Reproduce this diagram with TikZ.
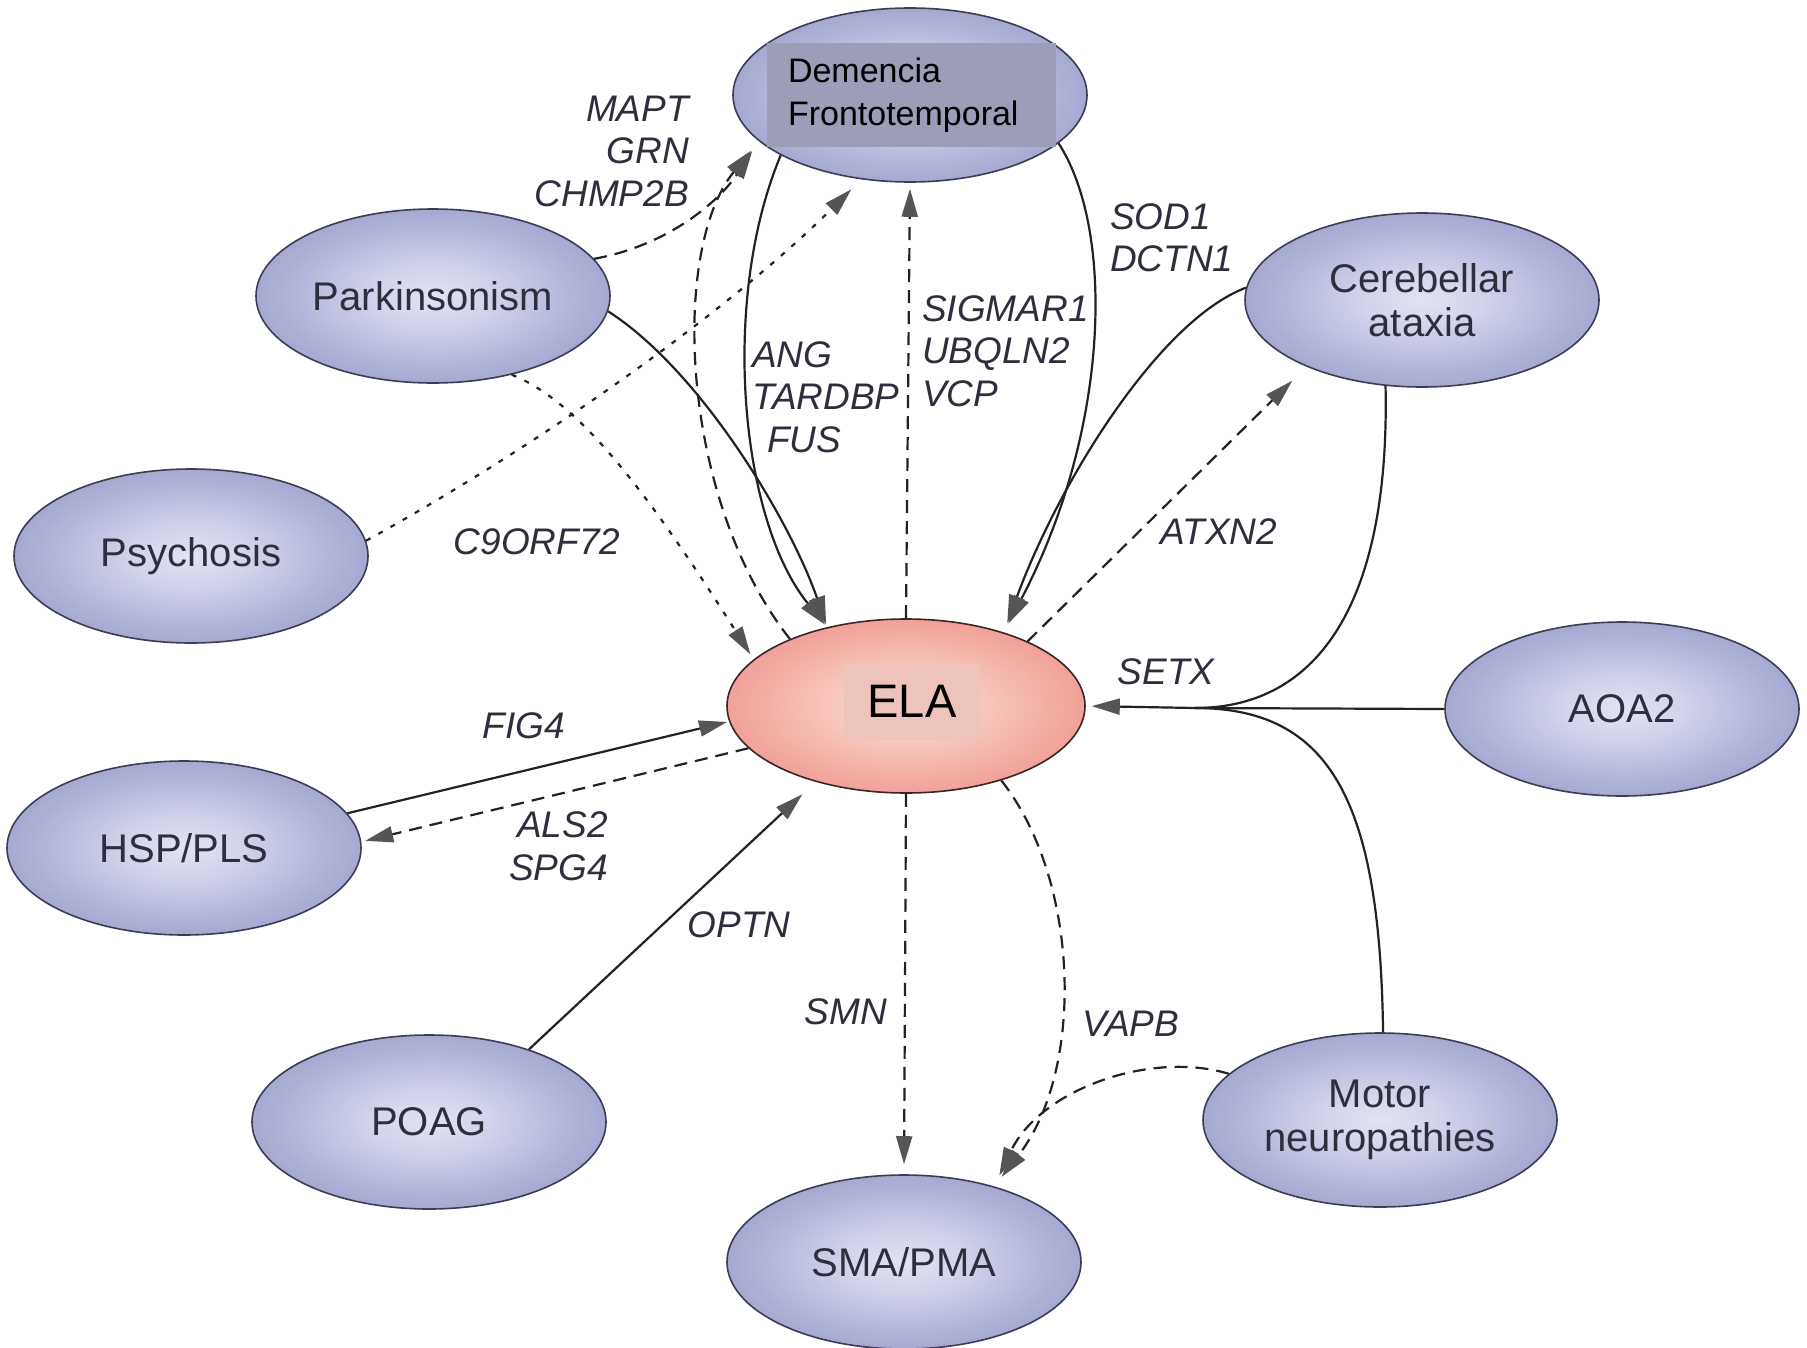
\documentclass[tikz,border=0pt]{standalone}
\usepackage{fontspec}
\setmainfont{Liberation Sans}
\usetikzlibrary{arrows.meta,shapes.geometric}
\definecolor{ellc0}{HTML}{E2E3F3}
\definecolor{ellc1}{HTML}{D2D4EB}
\definecolor{ellc2}{HTML}{9DA0CC}
\definecolor{ellc3}{HTML}{6D71A8}
\definecolor{ellborder}{HTML}{3C3C58}
\definecolor{elac0}{HTML}{FCE0D8}
\definecolor{elac1}{HTML}{F8CCC3}
\definecolor{elac2}{HTML}{F09A90}
\definecolor{elac3}{HTML}{DE6F65}
\definecolor{elaborder}{HTML}{3A2626}
\definecolor{demrect}{HTML}{9B9EB6}
\definecolor{elarect}{HTML}{EEC3BB}
\definecolor{arrowgray}{HTML}{555555}
\definecolor{linecol}{HTML}{222222}
\definecolor{labelcol}{HTML}{2E2E3C}
\pgfdeclareradialshading{blueball}{\pgfpoint{0bp}{0bp}}{color(0bp)=(ellc0); color(8bp)=(ellc1); color(28bp)=(ellc2); color(50bp)=(ellc3)}
\pgfdeclareradialshading{pinkball}{\pgfpoint{0bp}{0bp}}{color(0bp)=(elac0); color(8bp)=(elac1); color(28bp)=(elac2); color(50bp)=(elac3)}
\tikzset{
  dis/.style={ellipse, draw=ellborder, line width=1.6pt, shading=blueball,
    minimum width=354pt, minimum height=174pt, inner sep=0pt, text=labelcol,
    font=\fontsize{40}{44}\selectfont, align=center},
  elanode/.style={dis, draw=elaborder, shading=pinkball, minimum width=358pt},
  gene/.style={font=\fontsize{37}{42.5}\selectfont\itshape, text=labelcol, inner sep=0pt},
  conn/.style={line width=2.2pt, draw=linecol},
  dashln/.style={conn, dash pattern=on 13pt off 8pt},
  dotln/.style={conn, dash pattern=on 5pt off 9pt},
  arrowend/.style={-{Triangle[length=28pt,width=16pt,color=arrowgray,fill=arrowgray]}},
}
\begin{document}
\begin{tikzpicture}[x=1pt,y=-1pt]
\fill[white] (0,0) rectangle (1807,1347);
\useasboundingbox (0,0) rectangle (1807,1347);

% nodes
\node[dis] (dem) at (910,95) {};
\node[rectangle, fill=demrect, minimum width=289pt, minimum height=104pt,
      text width=247pt, align=left, inner xsep=21pt, inner ysep=0pt,
      font=\fontsize{34}{43}\selectfont, text=black] (demtxt) at (911.5,95) {Demencia\\Frontotemporal};
\node[dis] (park) at (433,296) {Parkinsonism};
\node[dis] (psy) at (191,556) {Psychosis};
\node[dis] (cer) at (1422,300) {Cerebellar\\ataxia};
\node[elanode] (ela) at (906,706) {};
\node[rectangle, fill=elarect, minimum width=136pt, minimum height=77pt, inner sep=0pt,
      font=\fontsize{47}{50}\selectfont, text=black] (elatxt) at (912,701) {ELA};
\node[dis] (aoa) at (1622,709) {AOA2};
\node[dis] (hsp) at (184,848) {HSP/PLS};
\node[dis] (poag) at (429,1122) {POAG};
\node[dis] (sma) at (904,1262) {SMA/PMA};
\node[dis] (mot) at (1380,1120) {Motor\\neuropathies};
\coordinate (j) at (1195,708);

% connectors
\draw[dashln, arrowend, shorten >=12pt] (park.13) .. controls (670,245) and (720,200) .. (dem.197);
\draw[dashln, arrowend, shorten >=12pt] (ela.150) .. controls (680,500) and (670,250) .. (dem.197);
\draw[dotln, arrowend, shorten >=14pt] (psy.5) .. controls (540,445) and (730,310) .. (dem.240);
\draw[dashln, arrowend, shorten >=6pt] (ela.north) -- (dem.south);
\draw[conn, arrowend, shorten >=3pt] (park.355) .. controls (700,370) and (790,520) .. (ela.135);
\draw[conn, arrowend, shorten >=3pt] (dem.205) .. controls (720,300) and (740,520) .. (ela.135);
\draw[conn, arrowend, shorten >=10pt] (dem.342) .. controls (1115,230) and (1110,430) .. (ela.37);
\draw[conn, arrowend, shorten >=10pt] (cer.176) .. controls (1160,320) and (1060,480) .. (ela.37);
\draw[dashln, arrowend, shorten >=20pt] (ela.28) -- (cer.210);
\draw[conn, arrowend, shorten >=6pt] (cer.247) .. controls (1390,600) and (1320,708) .. (j) -- (ela.east);
\draw[conn] (aoa.west) -- (j);
\draw[conn] (mot.88) .. controls (1380,800) and (1330,708) .. (j);
\draw[conn, arrowend, shorten >=2pt] (hsp.12) -- (ela.185);
\draw[dashln, arrowend, shorten >=4pt] (ela.195) -- (hsp.2);
\draw[conn, arrowend, shorten >=18pt] (poag.36) -- (ela.220);
\draw[dashln, arrowend, shorten >=10pt] (ela.south) -- (sma.north);
\draw[dashln, arrowend, shorten >=12pt] (ela.322) .. controls (1080,880) and (1085,1070) .. (sma.40);
\draw[dashln, arrowend, shorten >=12pt] (mot.163) .. controls (1150,1050) and (1040,1090) .. (sma.40);
\draw[dotln, arrowend, shorten >=6pt] (park.315) .. controls (575,400) and (640,480) .. (ela.163);

% gene labels
\node[gene, align=right, anchor=east] (gMAPT) at (689,151) {MAPT\\GRN\\CHMP2B};
\node[gene, align=left, anchor=west] (gSOD) at (1110,238) {SOD1\\DCTN1};
\node[gene, align=left, anchor=west] (gSIG) at (922,351) {SIGMAR1\\UBQLN2\\VCP};
\node[gene, align=left, anchor=west] (gANG) at (752,397) {ANG\\TARDBP\\\hspace*{15pt}FUS};
\node[gene] (gC9) at (537,542) {C9ORF72};
\node[gene] (gATX) at (1219,532) {ATXN2};
\node[gene] (gSETX) at (1166,672) {SETX};
\node[gene] (gFIG) at (524,726) {FIG4};
\node[gene, align=right, anchor=east] (gALS) at (608,846) {ALS2\\SPG4};
\node[gene] (gOPTN) at (739,925) {OPTN};
\node[gene] (gSMN) at (846,1012) {SMN};
\node[gene] (gVAPB) at (1131,1024) {VAPB};
\end{tikzpicture}
\end{document}
